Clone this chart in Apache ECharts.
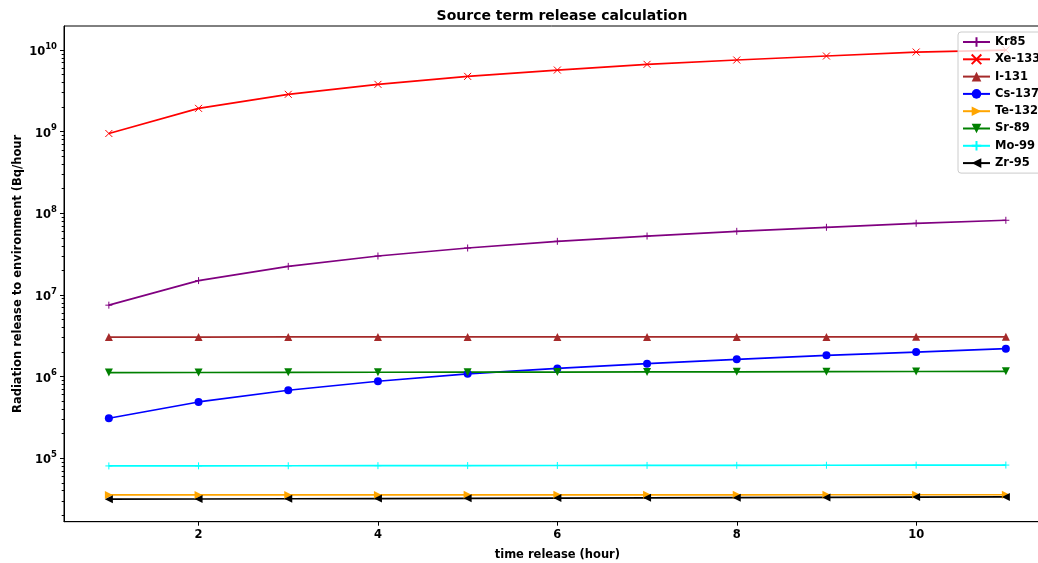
<!DOCTYPE html>
<html>
<head>
<meta charset="utf-8">
<script src="https://cdn.jsdelivr.net/npm/echarts@6/dist/echarts.min.js"></script>
<style>
html,body{margin:0;padding:0;background:#fff;}
#chart{width:1038px;height:563px;}
</style>
</head>
<body>
<div id="chart"></div>
<script>
// ---- data ----
const hours = [1, 2, 3, 4, 5, 6, 7, 8, 9, 10, 11];
const kr85  = [7.5e6, 1.50e7, 2.24e7, 3.00e7, 3.76e7, 4.54e7, 5.27e7, 6.02e7, 6.74e7, 7.55e7, 8.22e7];
const xe133 = [9.5e8, 1.93e9, 2.87e9, 3.80e9, 4.76e9, 5.69e9, 6.68e9, 7.55e9, 8.45e9, 9.45e9, 1.0e10];
const i131  = [3.05e6, 3.05e6, 3.06e6, 3.06e6, 3.06e6, 3.06e6, 3.06e6, 3.06e6, 3.06e6, 3.07e6, 3.07e6];
const cs137 = [3.09e5, 4.89e5, 6.81e5, 8.77e5, 1.08e6, 1.26e6, 1.44e6, 1.63e6, 1.82e6, 2.00e6, 2.20e6];
const te132 = [3.55e4, 3.55e4, 3.55e4, 3.55e4, 3.56e4, 3.56e4, 3.56e4, 3.56e4, 3.57e4, 3.57e4, 3.57e4];
const sr89  = [1.12e6, 1.123e6, 1.127e6, 1.13e6, 1.133e6, 1.137e6, 1.14e6, 1.145e6, 1.15e6, 1.155e6, 1.16e6];
const mo99  = [8.05e4, 8.07e4, 8.09e4, 8.11e4, 8.13e4, 8.15e4, 8.17e4, 8.19e4, 8.21e4, 8.23e4, 8.25e4];
const zr95  = [3.15e4, 3.17e4, 3.19e4, 3.21e4, 3.23e4, 3.25e4, 3.27e4, 3.29e4, 3.31e4, 3.34e4, 3.36e4];

const xTicks = [2, 4, 6, 8, 10];
const yMajorTicks = [1e5, 1e6, 1e7, 1e8, 1e9, 1e10];
const yMin = 16700, yMax = 1.97e10;

// minor log ticks (2..9 x decade)
const yMinorTicks = [];
for (let d = 4; d <= 10; d++) {
  for (let m = 2; m <= 9; m++) {
    const v = m * Math.pow(10, d);
    if (v > yMin && v < yMax) yMinorTicks.push(v);
  }
}

const PLUS = 'path://M5,0L5,10M0,5L10,5';
const CROSS = 'path://M0,0L10,10M10,0L0,10';
const TRI_R = 'path://M0,0L10,5L0,10Z';
const TRI_L = 'path://M10,0L0,5L10,10Z';
const TRI_D = 'path://M0,0L10,0L5,10Z';
const TRI_U = 'path://M5,0L10,10L0,10Z';

const seriesDefs = [
  {name: 'Kr85',   data: kr85,  color: '#800080', symbol: PLUS,     stroke: true},
  {name: 'Xe-133', data: xe133, color: '#ff0000', symbol: CROSS,    stroke: true},
  {name: 'I-131',  data: i131,  color: '#a52a2a', symbol: TRI_U,    stroke: false},
  {name: 'Cs-137', data: cs137, color: '#0000ff', symbol: 'circle', stroke: false},
  {name: 'Te-132', data: te132, color: '#ffa500', symbol: TRI_R,    stroke: false},
  {name: 'Sr-89',  data: sr89,  color: '#008000', symbol: TRI_D,    stroke: false},
  {name: 'Mo-99',  data: mo99,  color: '#00ffff', symbol: PLUS,     stroke: true},
  {name: 'Zr-95',  data: zr95,  color: '#000000', symbol: TRI_L,    stroke: false}
];

const FONT = 'DejaVu Sans';

const series = seriesDefs.map(s => ({
  name: s.name,
  type: 'line',
  data: hours.map((h, i) => [h, s.data[i]]),
  symbol: s.symbol,
  symbolSize: s.stroke ? 7 : 8,
  showAllSymbol: true,
  lineStyle: {color: s.color, width: 1.7},
  itemStyle: s.stroke
    ? {color: s.color, borderColor: s.color, borderWidth: 1}
    : {color: s.color, borderWidth: 0},
  emphasis: {disabled: true},
  animation: false
}));

const chart = echarts.init(document.getElementById('chart'), null, {renderer: 'canvas'});
chart.setOption({
  backgroundColor: '#ffffff',
  animation: false,
  title: {
    text: 'Source term release calculation',
    left: 557, top: 4, textAlign: 'center',
    textStyle: {fontFamily: FONT, fontSize: 14, fontWeight: 'bold', color: '#000'}
  },
  legend: {
    orient: 'vertical',
    left: 958, top: 32,
    padding: [4, 6, 4, 4],
    itemWidth: 27, itemHeight: 12, itemGap: 5.3,
    backgroundColor: 'rgba(255,255,255,0.8)',
    borderColor: '#cccccc', borderWidth: 1, borderRadius: 3,
    textStyle: {fontFamily: FONT, fontSize: 11.5, fontWeight: 'bold', color: '#000'},
    data: seriesDefs.map(s => s.name)
  },
  grid: {
    left: 64, top: 26, width: 986.7, bottom: 41.3,
    outerBoundsMode: 'none',
    containLabel: false,
    show: true, borderColor: '#000', borderWidth: 1, backgroundColor: 'transparent'
  },
  xAxis: {
    type: 'value', min: 0.5, max: 11.5,
    name: 'time release (hour)', nameLocation: 'middle', nameGap: 27,
    nameTextStyle: {fontFamily: FONT, fontSize: 11.5, fontWeight: 'bold', color: '#000'},
    axisLine: {show: true, lineStyle: {color: '#000', width: 1}},
    axisTick: {show: true, inside: false, length: 4, lineStyle: {color: '#000'}, customValues: xTicks},
    axisLabel: {fontFamily: FONT, fontSize: 11.5, fontWeight: 'bold', color: '#000', margin: 7, customValues: xTicks},
    splitLine: {show: false}
  },
  yAxis: [{
    type: 'log', logBase: 10, min: yMin, max: yMax,
    name: 'Radiation release to environment (Bq/hour', nameLocation: 'middle', nameGap: 40,
    nameMoveOverlap: false,
    nameTextStyle: {fontFamily: FONT, fontSize: 11.5, fontWeight: 'bold', color: '#000'},
    axisLine: {show: true, lineStyle: {color: '#000', width: 1}},
    axisTick: {show: true, inside: false, length: 4, lineStyle: {color: '#000'}, customValues: yMajorTicks},
    axisLabel: {
      customValues: yMajorTicks,
      margin: 7,
      formatter: v => '{a|10}{b|' + Math.round(Math.log10(v)) + '}',
      rich: {
        a: {fontFamily: FONT, fontSize: 11.5, fontWeight: 'bold', color: '#000', verticalAlign: 'bottom', lineHeight: 16},
        b: {fontFamily: FONT, fontSize: 8.5, fontWeight: 'bold', color: '#000', verticalAlign: 'top', lineHeight: 16, padding: [0, 0, 6, 0]}
      }
    },
    splitLine: {show: false}
  }, {
    type: 'log', logBase: 10, min: yMin, max: yMax, position: 'left',
    axisLine: {show: false},
    axisTick: {show: true, inside: false, length: 2.3, lineStyle: {color: '#000'}, customValues: yMinorTicks},
    axisLabel: {show: false},
    splitLine: {show: false}
  }],
  series: series
});
</script>
</body>
</html>
